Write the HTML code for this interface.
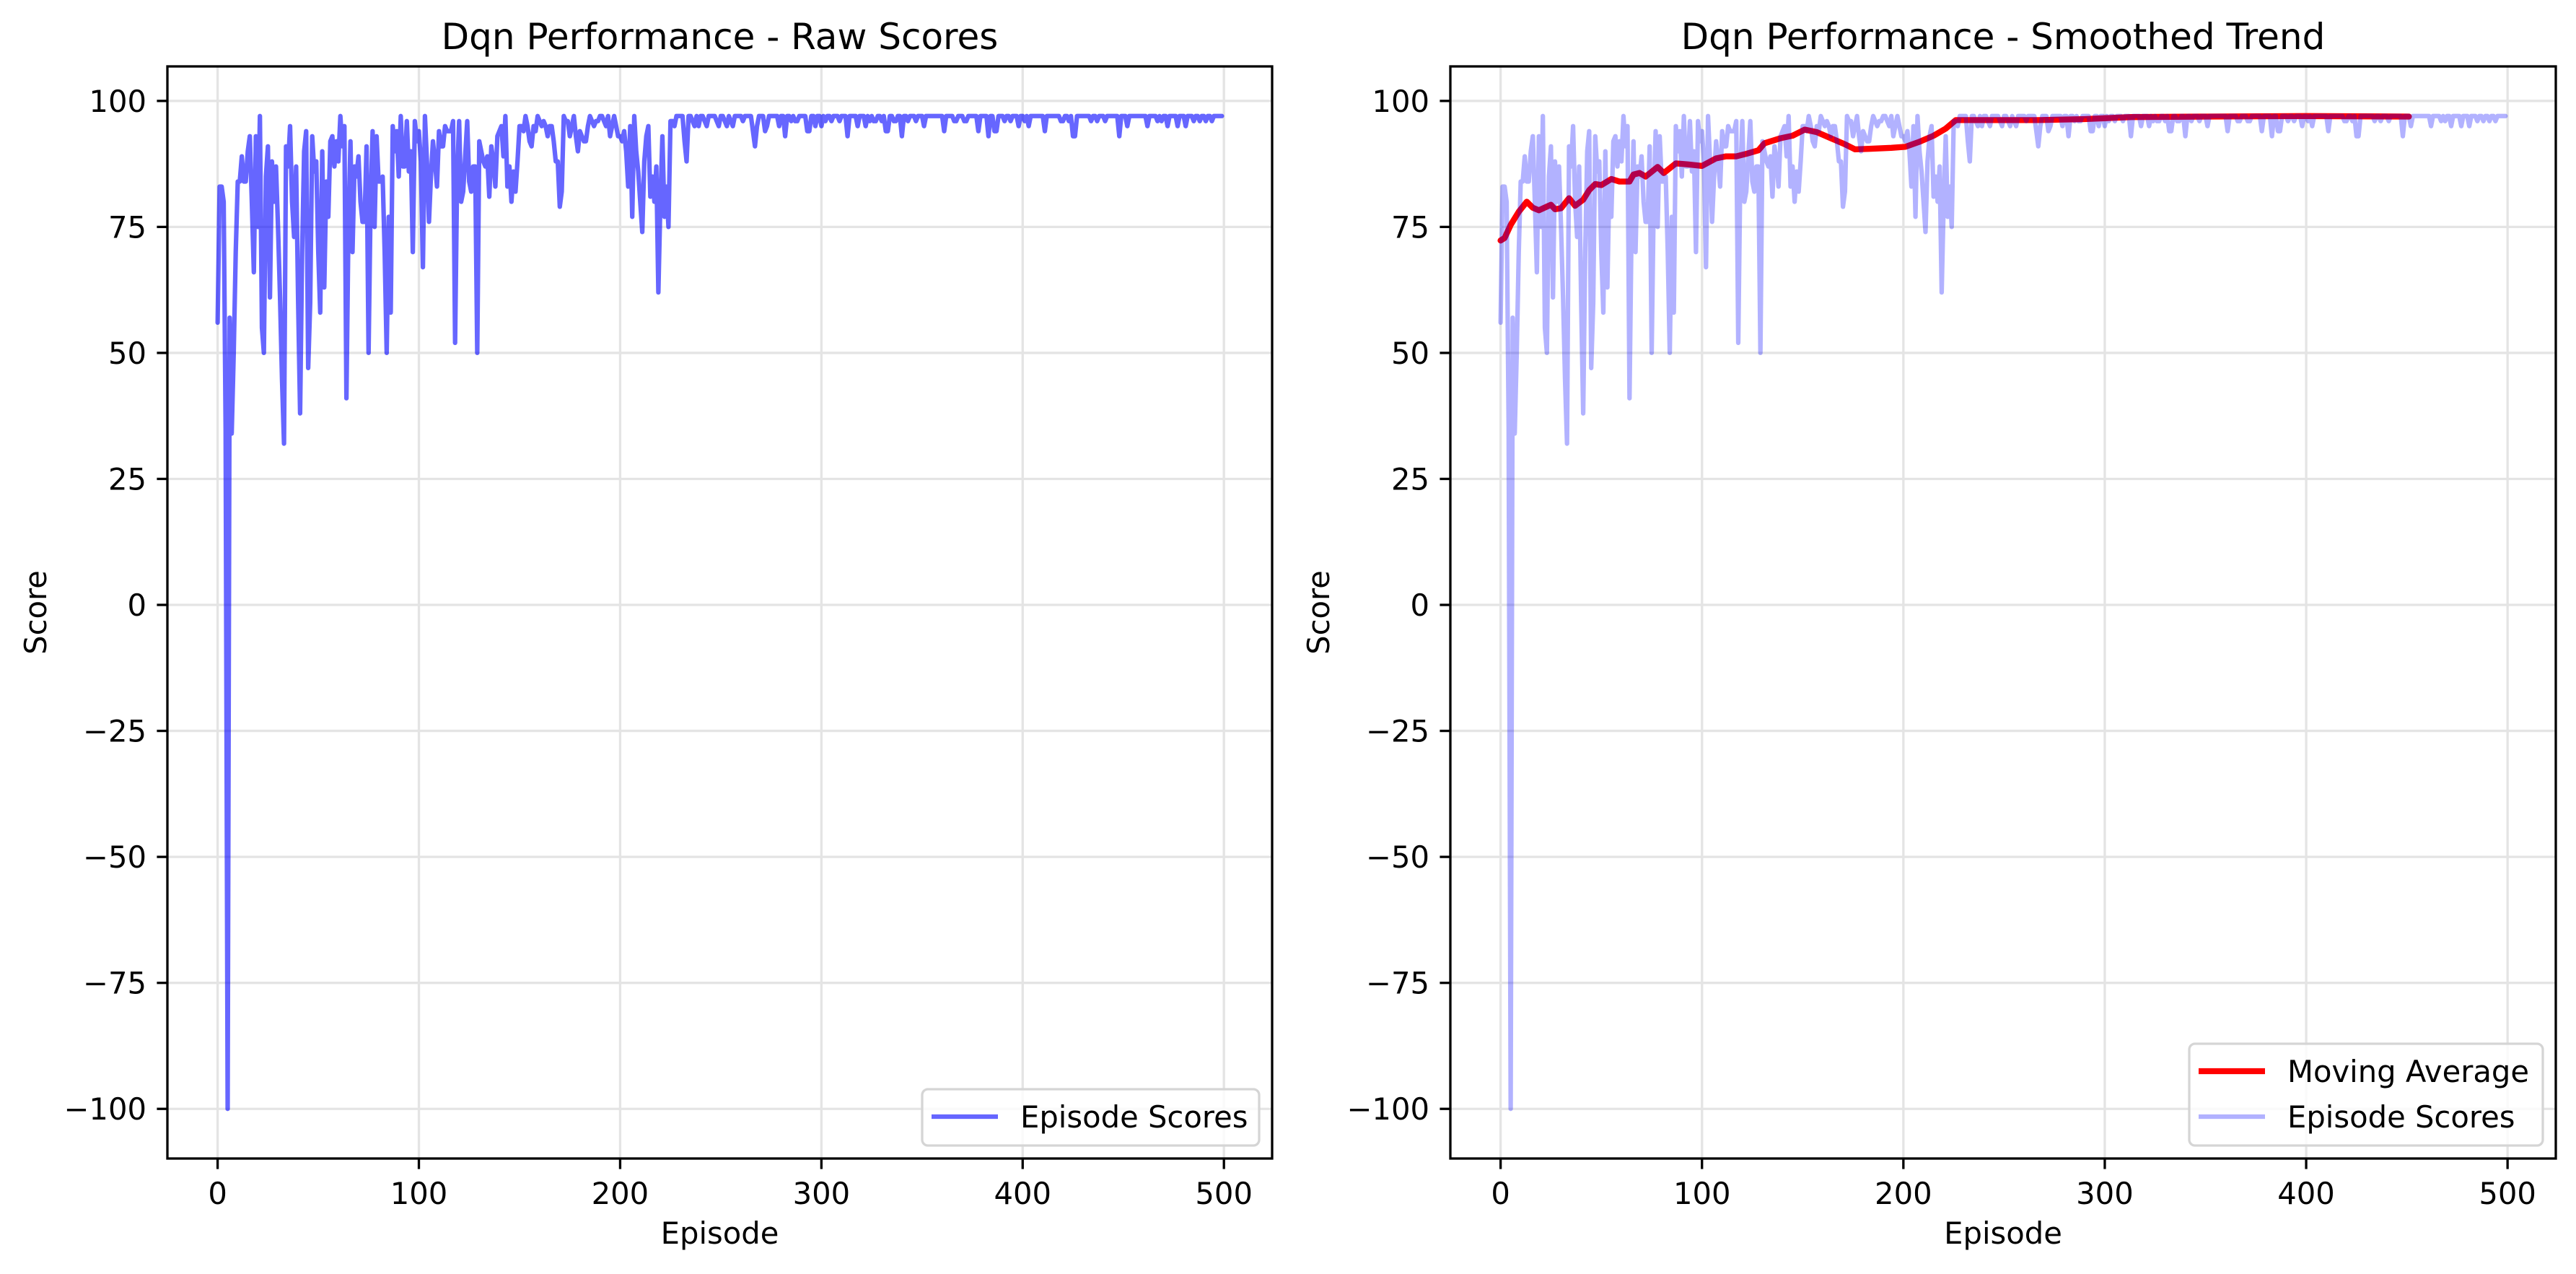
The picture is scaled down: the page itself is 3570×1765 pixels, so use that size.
<!DOCTYPE html>
<html><head><meta charset="utf-8">
<style>
html,body{margin:0;padding:0;background:#fff;}
svg{display:block;font-family:"DejaVu Sans","Liberation Sans",sans-serif;}
</style></head>
<body>
<svg id="fig" width="3570" height="1765" viewBox="0 0 3570 1765" xmlns="http://www.w3.org/2000/svg">
<rect width="3570" height="1765" fill="#fff"/>
</svg>
<script>
const scores = [
56,83,83,80,35,-100,57,34,50,70,84,84,89,84,84,90,93,80,66,93,75,97,55,50,85,
91,61,88,80,87,75,61,45,32,91,87,95,80,73,87,60,38,70,90,94,47,60,93,86,88,
70,58,90,63,84,77,92,93,87,92,88,97,91,95,41,75,92,70,87,85,89,80,76,76,91,
50,80,94,75,93,84,84,85,70,50,77,58,95,90,94,85,97,87,87,96,86,90,70,96,92,
94,88,67,97,88,76,85,92,88,83,94,91,91,95,94,94,94,96,52,85,96,80,82,89,96,
84,82,87,87,50,92,90,88,87,89,81,91,88,83,93,94,95,89,97,83,87,80,86,82,88,
95,95,94,97,95,92,91,95,94,97,96,95,96,95,93,95,95,92,88,88,79,82,97,96,96,
93,95,97,93,90,94,93,92,92,95,97,96,95,96,96,97,97,96,95,97,93,95,97,95,93,
93,92,94,90,83,95,77,97,90,86,80,74,88,93,95,81,85,80,87,62,80,93,77,83,75,
96,96,95,97,97,97,97,92,88,97,97,96,95,97,95,97,97,96,95,97,97,97,97,96,95,
97,97,96,95,97,96,95,97,97,97,97,96,97,97,97,97,94,91,95,97,97,97,94,95,97,
97,97,97,97,95,97,97,93,97,97,96,97,96,96,97,97,97,97,94,94,97,97,95,97,97,
95,97,96,97,97,96,97,97,97,96,97,97,97,93,97,97,97,97,95,97,97,97,95,97,96,
97,96,96,97,97,96,97,94,94,97,97,96,96,97,97,93,97,97,96,97,97,97,96,97,97,
97,95,97,97,97,97,97,97,97,97,97,94,97,97,97,97,96,96,97,97,97,96,96,97,97,
97,97,97,94,97,97,97,97,93,97,97,94,94,97,97,97,96,97,97,96,97,97,97,95,97,
97,96,97,95,97,97,97,97,97,97,97,94,97,97,97,97,97,97,97,96,96,97,97,96,97,
93,93,97,97,97,97,97,97,97,96,97,97,96,97,97,97,96,97,97,97,97,97,97,93,97,
97,97,95,97,97,97,97,97,97,97,97,97,95,97,97,97,97,96,97,96,97,97,95,97,97,
97,97,95,97,97,97,95,97,97,97,96,97,97,96,97,97,96,97,97,96,97,97,97,97,97
];
const maEpisodes = [0,2,5,9,13,16,19,25,27,30,34,37,41,44,47,50,55,59,64,66,69,72,78,81,87,93,100,107,112,117,122,128,131,139,145,151,157,164,171,176,183,194,201,208,215,221,226,244,267,290,313,351,400,451];
const maValues =   [72.3,72.8,75.4,78,80,78.8,78.3,79.4,78.5,78.7,80.7,79.2,80.4,82.3,83.5,83.3,84.5,84,84,85.4,85.7,85,86.9,85.7,87.6,87.4,87.1,88.6,89,89,89.5,90.2,91.6,92.6,93.1,94.3,93.8,92.6,91.4,90.4,90.5,90.7,90.9,91.9,93.1,94.5,96.2,96.2,96.2,96.4,96.8,96.9,97,96.9];
const yTicks = [-100,-75,-50,-25,0,25,50,75,100];
const xTicks = [0,100,200,300,400,500];

const NS='http://www.w3.org/2000/svg';
const svg=document.getElementById('fig');
function mk(tag,attrs,parent,text){const e=document.createElementNS(NS,tag);for(const k in attrs)e.setAttribute(k,attrs[k]);if(text!==undefined)e.textContent=text;(parent||svg).appendChild(e);return e;}

function panel(left,right,title,opts){
  const top=92,bottom=1605;
  const xmin=-24.95,xmax=523.95,ymin=-109.85,ymax=106.85;
  const X=v=>left+(v-xmin)/(xmax-xmin)*(right-left);
  const Y=v=>bottom-(v-ymin)/(ymax-ymin)*(bottom-top);
  const g=mk('g',{});
  
  
  // grid
  xTicks.forEach(t=>{const l=mk('line',{x1:X(t),x2:X(t),y1:top,y2:bottom,stroke:'#e4e4e4','stroke-width':3.3},g);
    });
  yTicks.forEach(t=>{const l=mk('line',{x1:left,x2:right,y1:Y(t),y2:Y(t),stroke:'#e4e4e4','stroke-width':3.3},g);
    });
  const clipId='clip'+opts.name;
  const cp=mk('clipPath',{id:clipId},g);mk('rect',{x:left,y:top,width:right-left,height:bottom-top},cp);
  const plotG=mk('g',{'clip-path':'url(#'+clipId+')'},g);
  if(opts.ma){
    const d=maEpisodes.map((e,i)=>(i?'L':'M')+X(e).toFixed(1)+' '+Y(maValues[i]).toFixed(1)).join(' ');
    const p=mk('path',{d:d,fill:'none',stroke:'#ff0000','stroke-width':8.3,'stroke-linejoin':'round','stroke-linecap':'round'},plotG);
    
  }
  const d=scores.map((v,i)=>(i?'L':'M')+X(i).toFixed(1)+' '+Y(v).toFixed(1)).join(' ');
  const p=mk('path',{d:d,fill:'none',stroke:'#0000ff','stroke-opacity':opts.alpha,'stroke-width':6.25,'stroke-linejoin':'round','stroke-linecap':'round'},plotG);
  
  // spines
  const fr=mk('rect',{x:left,y:top,width:right-left,height:bottom-top,fill:'none',stroke:'#000','stroke-width':3.3},g);
  
  // ticks
  xTicks.forEach(t=>{mk('line',{x1:X(t),x2:X(t),y1:bottom,y2:bottom+14.6,stroke:'#000','stroke-width':3.3},g);
    const tx=mk('text',{x:X(t),y:1668,'font-size':41.7,'text-anchor':'middle',fill:'#000'},g,String(t));
    });
  yTicks.forEach(t=>{mk('line',{x1:left-14.6,x2:left,y1:Y(t),y2:Y(t),stroke:'#000','stroke-width':3.3},g);
    const tx=mk('text',{x:left-29,y:Y(t)+15,'font-size':41.7,'text-anchor':'end',fill:'#000'},g,(t<0?'\u2212'+(-t):String(t)));
    });
  const ti=mk('text',{x:(left+right)/2,y:68,'font-size':50,'text-anchor':'middle',fill:'#000'},g,title);
  
  const xl=mk('text',{x:(left+right)/2,y:1723,'font-size':41.7,'text-anchor':'middle',fill:'#000'},g,'Episode');
  
  const yl=mk('text',{x:0,y:0,'font-size':41.7,'text-anchor':'middle',fill:'#000',transform:'translate('+(left-168)+' '+((top+bottom)/2)+') rotate(-90)'},g,'Score');
  
  // legend
  const lg=mk('g',{},g);
  
  const entries=opts.ma?[['Moving Average','#ff0000',1,8.3],['Episode Scores','#0000ff',opts.alpha,6.25]]:[['Episode Scores','#0000ff',opts.alpha,6.25]];
  const lh=63, bh=entries.length*lh+15;
  const bx=opts.legendX, bw=right-18-bx, by=bottom-18-bh;
  mk('rect',{x:bx,y:by,width:bw,height:bh,rx:8,fill:'#fff','fill-opacity':0.8,stroke:'#d5d5d5','stroke-width':3.3},lg);
  entries.forEach((e,i)=>{const cy=by+38+i*lh;
    const ln=mk('line',{x1:bx+13,x2:bx+105,y1:cy,y2:cy,stroke:e[1],'stroke-opacity':e[2],'stroke-width':e[3]},lg);
    
    const tx=mk('text',{x:bx+136,y:cy+15,'font-size':41.7,fill:'#000'},lg,e[0]);
    });
}
panel(232,1763,'Dqn Performance - Raw Scores',{name:'raw-scores-panel',alpha:0.6,ma:false,legendX:1278});
panel(2010,3542,'Dqn Performance - Smoothed Trend',{name:'smoothed-trend-panel',alpha:0.3,ma:true,legendX:3034});
</script>
</body></html>
